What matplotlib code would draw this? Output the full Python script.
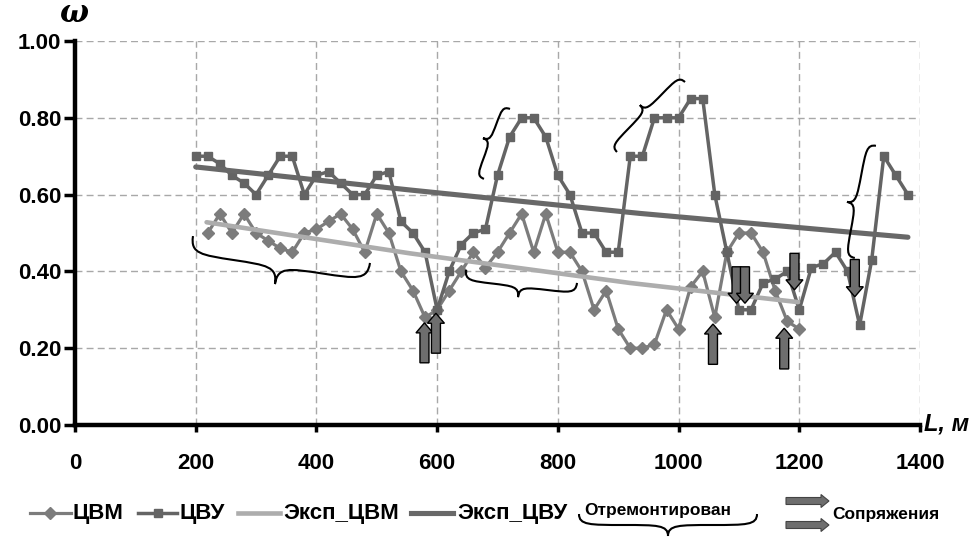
import numpy as np
import matplotlib
matplotlib.use('Agg')
import matplotlib.pyplot as plt
from matplotlib.path import Path
from matplotlib.patches import PathPatch, Polygon
from matplotlib.lines import Line2D

plt.rcParams['font.family'] = ['Liberation Sans', 'DejaVu Sans']
plt.rcParams['font.weight'] = 'bold'

# ---------------- data ----------------
L_cvu = [200, 220, 240, 260, 280, 300, 320, 340, 360, 380, 400, 420, 440, 460, 480,
         500, 520, 540, 560, 580, 600, 620, 640, 660, 680, 700, 720, 740, 760, 780,
         800, 820, 840, 860, 880, 900, 920, 940, 960, 980, 1000, 1020, 1040, 1060, 1080,
         1100, 1120, 1140, 1160, 1180, 1200, 1220, 1240, 1260, 1280, 1300, 1320, 1340, 1360, 1380]
w_cvu = [0.70, 0.70, 0.68, 0.65, 0.63, 0.60, 0.65, 0.70, 0.70, 0.60, 0.65, 0.66, 0.63, 0.60, 0.60,
         0.65, 0.66, 0.53, 0.50, 0.45, 0.30, 0.40, 0.47, 0.50, 0.51, 0.65, 0.75, 0.80, 0.80, 0.75,
         0.65, 0.60, 0.50, 0.50, 0.45, 0.45, 0.70, 0.70, 0.80, 0.80, 0.80, 0.85, 0.85, 0.60, 0.45,
         0.30, 0.30, 0.37, 0.38, 0.40, 0.30, 0.41, 0.42, 0.45, 0.40, 0.26, 0.43, 0.70, 0.65, 0.60]

L_cvm = [220, 240, 260, 280, 300, 320, 340, 360, 380, 400, 420, 440, 460, 480, 500,
         520, 540, 560, 580, 600, 620, 640, 660, 680, 700, 720, 740, 760, 780, 800,
         820, 840, 860, 880, 900, 920, 940, 960, 980, 1000, 1020, 1040, 1060, 1080, 1100,
         1120, 1140, 1160, 1180, 1200]
w_cvm = [0.50, 0.55, 0.50, 0.55, 0.50, 0.48, 0.46, 0.45, 0.50, 0.51, 0.53, 0.55, 0.51, 0.45, 0.55,
         0.50, 0.40, 0.35, 0.28, 0.30, 0.35, 0.40, 0.45, 0.41, 0.45, 0.50, 0.55, 0.45, 0.55, 0.45,
         0.45, 0.40, 0.30, 0.35, 0.25, 0.20, 0.20, 0.21, 0.30, 0.25, 0.36, 0.40, 0.28, 0.45, 0.50,
         0.50, 0.45, 0.35, 0.27, 0.25]

# exponential trend lines
L_tr_cvu = [200, 555, 936, 1300, 1380]
w_tr_cvu = [0.672, 0.612, 0.551, 0.500, 0.489]
L_tr_cvm = [218, 555, 919, 1198]
w_tr_cvm = [0.528, 0.447, 0.370, 0.320]

x_ticks = [0, 200, 400, 600, 800, 1000, 1200, 1400]
y_ticks = [0.0, 0.2, 0.4, 0.6, 0.8, 1.0]
y_tick_labels = ['0.00', '0.20', '0.40', '0.60', '0.80', '1.00']

# annotation arrows "Сопряжения": (L, omega_start, omega_end)
arrows_up = [(579, 0.162, 0.266), (598, 0.187, 0.291), (1057, 0.158, 0.263), (1175, 0.146, 0.252)]
arrows_down = [(1096, 0.412, 0.317), (1110, 0.412, 0.317), (1192, 0.447, 0.352), (1292, 0.431, 0.334)]

# braces "Отремонтирован": (end0, end1, tip) in (L, omega)
braces = [
    ((195.5, 0.492), (488.7, 0.422), (331.3, 0.367)),
    ((647.8, 0.404), (831.7, 0.370), (734.0, 0.333)),
    ((720.7, 0.823), (677.6, 0.641), (676.0, 0.747)),
    ((898.0, 0.711), (1010.6, 0.893), (936.0, 0.833)),
    ((1327.0, 0.727), (1292.0, 0.435), (1279.0, 0.581)),
]

legend_labels = ['ЦВМ', 'ЦВУ', 'Эксп_ЦВМ', 'Эксп_ЦВУ']

# colours
c_cvm = '#7c7c7c'
c_cvu = '#646464'
c_tr_cvm = '#adadad'
c_tr_cvu = '#686868'
c_arrow = '#6e6e6e'

W, H = 970, 537
fig = plt.figure(figsize=(W / 100, H / 100), dpi=100)
ax = fig.add_axes([75 / W, 1 - 425 / H, (920 - 75) / W, (425 - 41) / H])

def fx(px):
    return px / W

def fy(py):
    return 1 - py / H

ax.plot(L_cvm, w_cvm, color=c_cvm, lw=2.3, marker='D', ms=6.2, zorder=3)
ax.plot(L_cvu, w_cvu, color=c_cvu, lw=2.5, marker='s', ms=5.6, zorder=3)
ax.plot(L_tr_cvm, w_tr_cvm, color=c_tr_cvm, lw=3.3, zorder=4, solid_capstyle='round')
ax.plot(L_tr_cvu, w_tr_cvu, color=c_tr_cvu, lw=3.7, zorder=4, solid_capstyle='round')

ax.set_xlim(0, 1400)
ax.set_ylim(0, 1.0)
ax.set_xticks(x_ticks)
ax.set_yticks(y_ticks)
ax.set_yticklabels(y_tick_labels)
ax.tick_params(axis='both', direction='out', width=2.5, colors='black', labelsize=16)
ax.tick_params(axis='x', length=5, pad=15)
ax.tick_params(axis='y', length=8, pad=2)
for lab in ax.get_xticklabels() + ax.get_yticklabels():
    lab.set_fontweight('bold')
for s in ['top', 'right']:
    ax.spines[s].set_visible(False)
for s in ['left', 'bottom']:
    ax.spines[s].set_linewidth(3.2)
    ax.spines[s].set_color('black')
ax.grid(True, color='#a8a8a8', linestyle=(0, (5, 3)), linewidth=1.0)
ax.set_axisbelow(True)

to_disp = ax.transData.transform
to_data = ax.transData.inverted().transform

def brace_verts(p0, p1, T):
    p0, p1, T = np.asarray(p0, float), np.asarray(p1, float), np.asarray(T, float)
    d = p1 - p0
    d = d / np.linalg.norm(d)
    n = np.array([-d[1], d[0]])
    if np.dot(T - p0, n) < 0:
        n = -n

    def half(E):
        h = np.dot(T - E, n)
        a = np.dot(T - E, d) * d
        Q = E + n * h * 0.5 + a * 0.5
        return [E, E + n * h * 0.5, E + n * h * 0.5 + a * 0.12, Q,
                Q + a * 0.38, T - n * h * 0.5, T]
    h1 = half(p0)
    h2 = half(p1)[::-1]
    verts = h1 + h2[1:]
    codes = [Path.MOVETO] + [Path.CURVE4] * 12
    return np.array(verts), codes

for p0, p1, T in braces:
    dp = to_disp(np.array([p0, p1, T]))
    v, codes = brace_verts(dp[0], dp[1], dp[2])
    path = Path(to_data(v), codes)
    ax.add_patch(PathPatch(path, facecolor='none', edgecolor='black', lw=1.5, zorder=6,
                           clip_on=False))

def block_arrow(start, end, shaft=9, head_w=17, head_l=10):
    start, end = np.asarray(start, float), np.asarray(end, float)
    d = end - start
    length = np.linalg.norm(d)
    d = d / length
    n = np.array([-d[1], d[0]])
    b = end - d * head_l
    pts = [start + n * shaft / 2, b + n * shaft / 2, b + n * head_w / 2, end,
           b - n * head_w / 2, b - n * shaft / 2, start - n * shaft / 2]
    return np.array(pts)

for Lx, v0, v1 in arrows_up + arrows_down:
    dp = to_disp(np.array([(Lx, v0), (Lx, v1)]))
    pts = block_arrow(dp[0], dp[1])
    ax.add_patch(Polygon(to_data(pts), closed=True, facecolor=c_arrow, edgecolor='black',
                         lw=1.0, zorder=7, clip_on=False))

# axis titles
fig.text(fx(74), fy(14), 'ω', fontsize=22, fontweight='bold', style='italic',
         family=['DejaVu Serif'], ha='center', va='center')
fig.text(fx(924), fy(424), 'L, м', fontsize=17, fontweight='bold', style='italic',
         ha='left', va='center')

# ---------------- legend (manual) ----------------
ly = 513
icons = [(30, 71, c_cvm, 2.3, 'D', 6.2), (138, 177, c_cvu, 2.5, 's', 5.6),
         (238, 280, c_tr_cvm, 3.3, None, 0), (411, 453, c_tr_cvu, 3.7, None, 0)]
text_x = [73, 180, 283, 457]
for (x0, x1, col, lw, mk, ms), tx, lab in zip(icons, text_x, legend_labels):
    fig.add_artist(Line2D([fx(x0), fx(x1)], [fy(ly), fy(ly)], color=col, lw=lw,
                          transform=fig.transFigure))
    if mk:
        fig.add_artist(Line2D([fx((x0 + x1) / 2)], [fy(ly)], color=col, marker=mk, ms=ms,
                              transform=fig.transFigure))
    fig.text(fx(tx), fy(ly), lab, fontsize=16, fontweight='bold', ha='left', va='center')

fig.text(fx(584), fy(510), 'Отремонтирован', fontsize=12.5, fontweight='bold',
         ha='left', va='center')
to_fig_inv = fig.transFigure.inverted().transform
to_fig = fig.transFigure.transform
bp = to_fig(np.array([(fx(579), fy(514)), (fx(757), fy(514)), (fx(668), fy(536))]))
v, codes = brace_verts(bp[0], bp[1], bp[2])
fig.add_artist(PathPatch(Path(to_fig_inv(v), codes), facecolor='none', edgecolor='black',
                         lw=1.5, transform=fig.transFigure))

for yy in (501, 525):
    s = to_fig(np.array([(fx(786), fy(yy)), (fx(829), fy(yy))]))
    pts = block_arrow(s[0], s[1], shaft=7, head_w=13, head_l=8)
    fig.add_artist(Polygon(to_fig_inv(pts), closed=True, facecolor=c_arrow, edgecolor='#444444',
                           lw=0.8, transform=fig.transFigure))
fig.text(fx(832), fy(515), 'Сопряжения', fontsize=12.5, fontweight='bold',
         ha='left', va='center')

fig.savefig('out.png', dpi=100)
